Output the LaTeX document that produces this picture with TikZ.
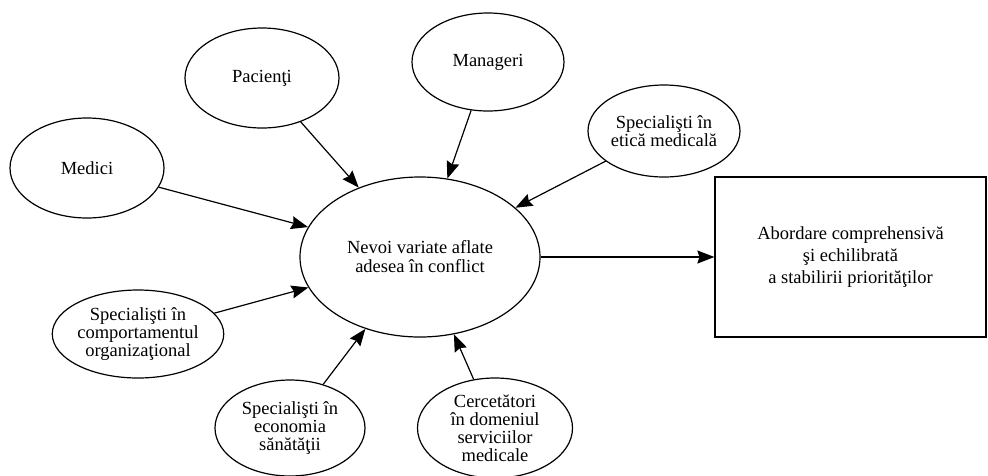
\documentclass[tikz,border=0pt]{standalone}
\usepackage{fontspec}
\setmainfont{Liberation Serif}
\usetikzlibrary{shapes.geometric,arrows.meta}
\begin{document}
\begin{tikzpicture}[x=1pt,y=-1pt,
  oval/.style={ellipse, draw, line width=1.2pt, inner sep=0pt, align=center,
    font=\fontsize{18.5}{18}\selectfont},
  goalbox/.style={rectangle, draw, line width=1.2pt, inner sep=0pt, align=center,
    font=\fontsize{18.5}{22}\selectfont},
  link/.style={line width=1.2pt, -{Stealth[length=17pt,width=13pt,inset=2pt]}}]
\useasboundingbox (0,0) rectangle (988,475);

% stakeholder groups
\node[oval, minimum width=154pt, minimum height=100pt] (med) at (87,168) {Medici};
\node[oval, minimum width=154pt, minimum height=100pt] (pac) at (262,78) {Pacienţi};
\node[oval, minimum width=152pt, minimum height=98pt] (man) at (488,62) {Manageri};
\node[oval, minimum width=152pt, minimum height=92pt] (eti) at (664,131) {Specialişti în\\etică medicală};
\node[oval, minimum width=150pt, minimum height=88pt] (com) at (138,334) {Specialişti în\\comportamentul\\organizaţional};
\node[oval, minimum width=150pt, minimum height=96pt] (eco) at (290,428) {Specialişti în\\economia\\sănătăţii};
\node[oval, minimum width=155pt, minimum height=100pt] (cer) at (495,428) {Cercetători\\în domeniul\\serviciilor\\medicale};

% central needs and outcome
\node[oval, minimum width=240pt, minimum height=160pt, font=\fontsize{18.5}{19}\selectfont] (cen) at (420,257) {Nevoi variate aflate\\adesea în conflict};
\node[goalbox, minimum width=271pt, minimum height=160pt] (box) at (850.5,257) {Abordare comprehensivă\\şi echilibrată\\a stabilirii priorităţilor};

% connectors
\draw[link] (med) -- (cen);
\draw[link] (pac) -- (cen);
\draw[link] (man) -- (cen);
\draw[link] (eti) -- (cen);
\draw[link] (com) -- (cen);
\draw[link] (eco) -- (cen);
\draw[link] (cer) -- (cen);
\draw[link] (cen) -- (box);
\end{tikzpicture}
\end{document}
